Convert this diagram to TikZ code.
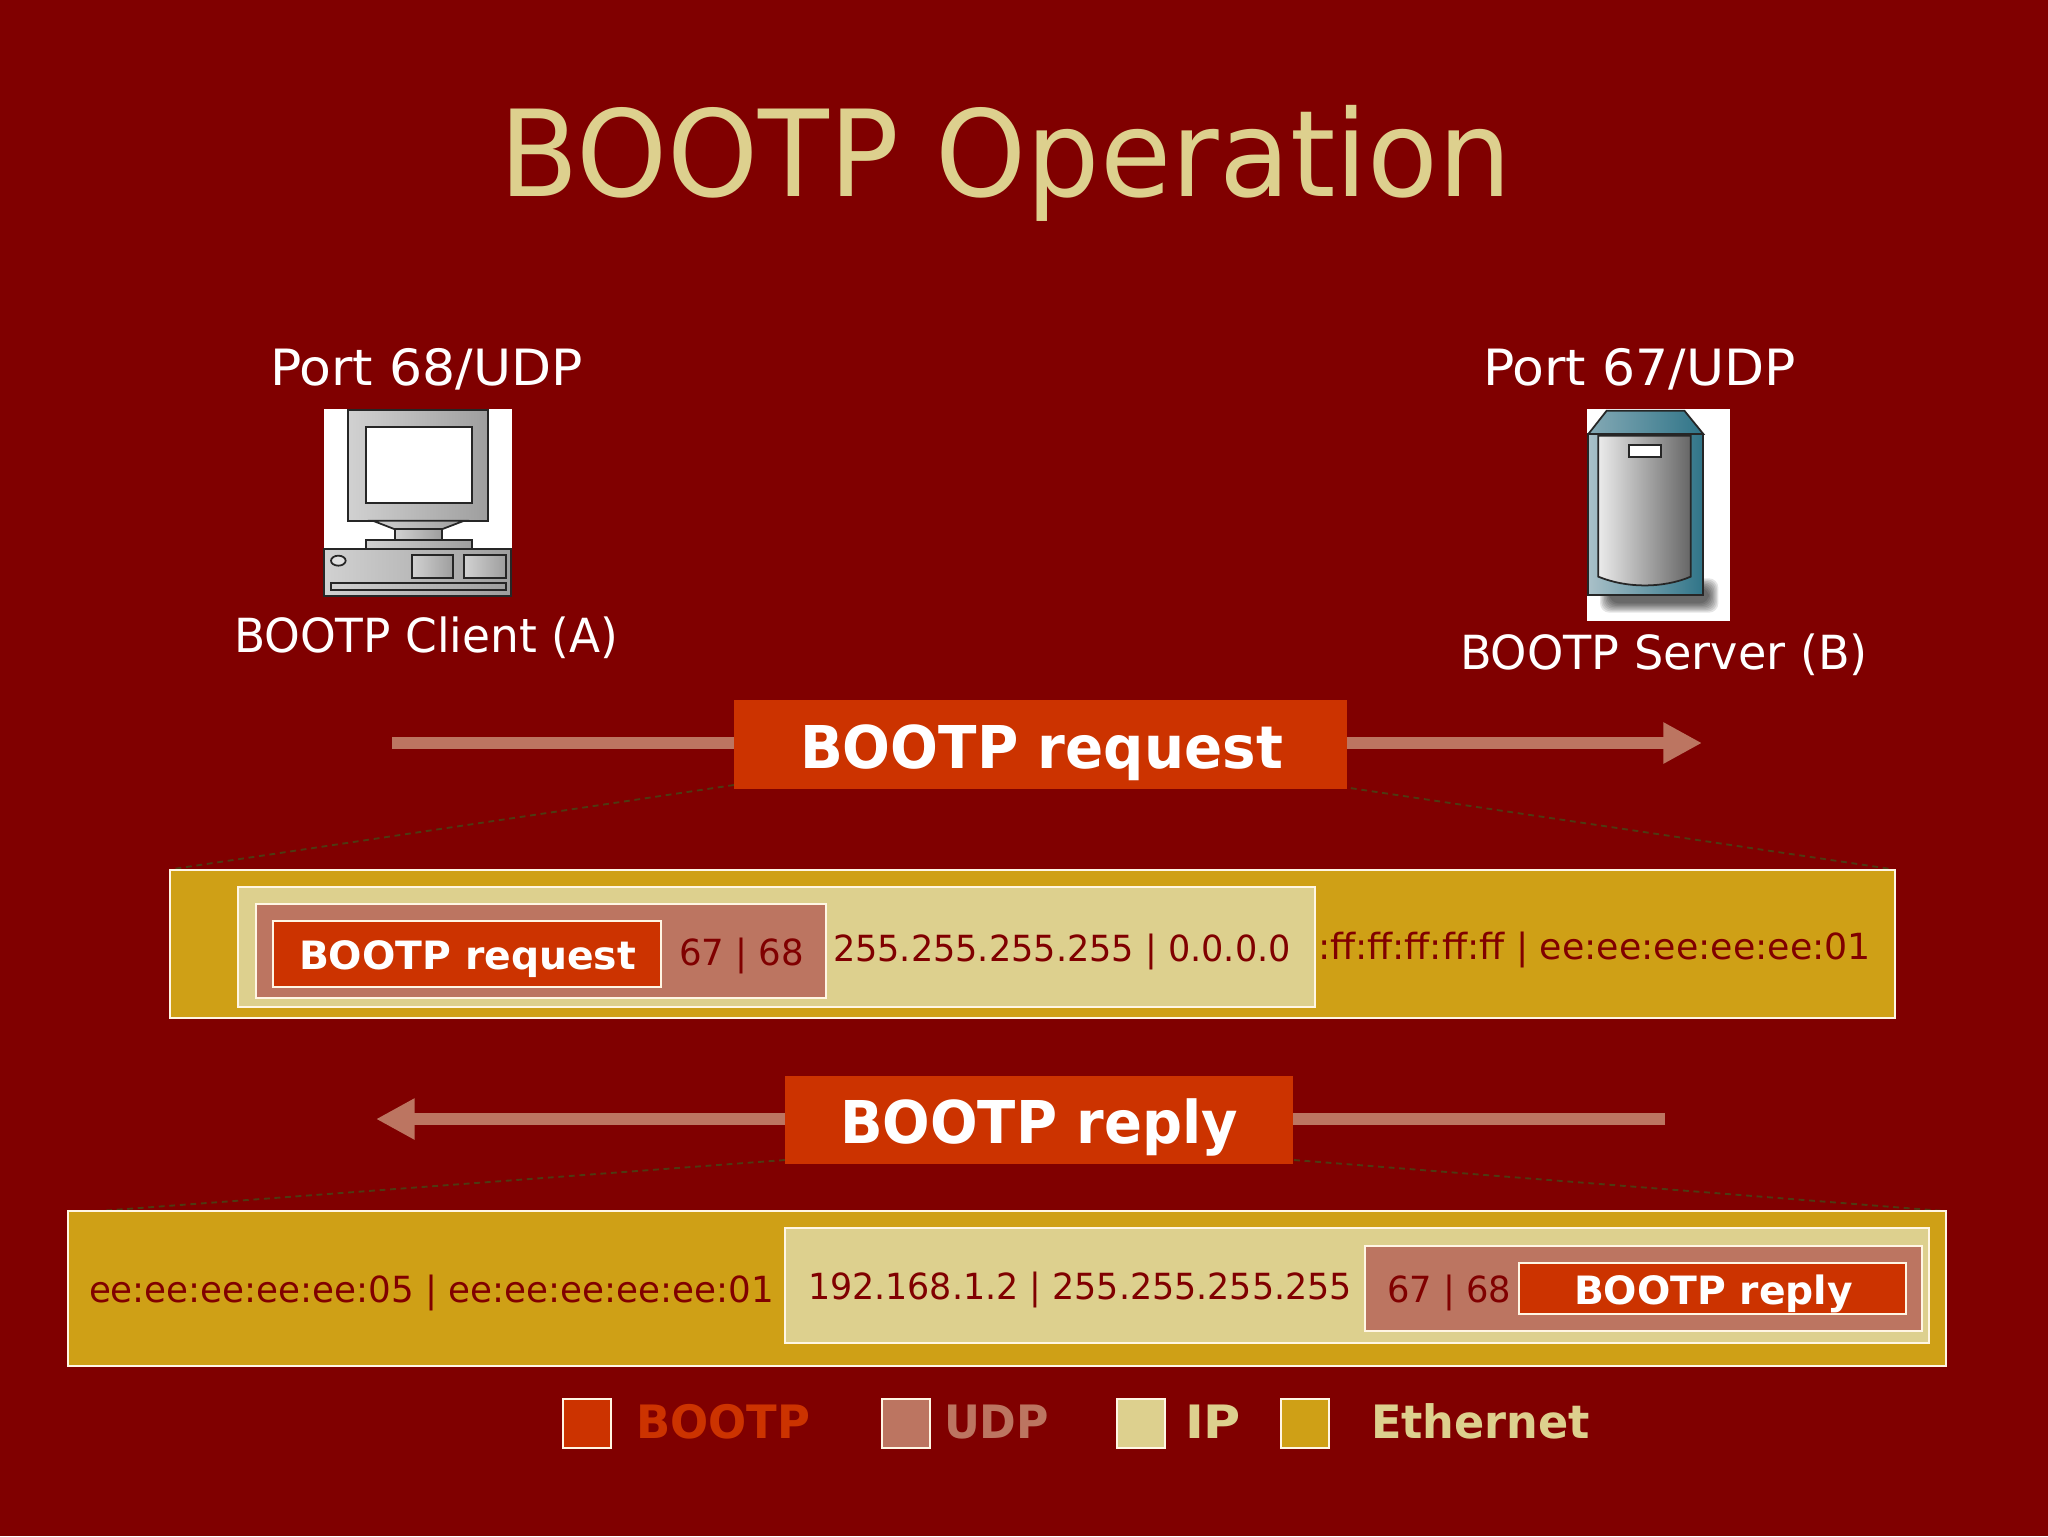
\documentclass[tikz,border=0pt]{standalone}
\usepackage{graphicx}
\usepackage{fontspec}
\setmainfont{DejaVu Sans}
\usetikzlibrary{arrows.meta}
\definecolor{bgred}{HTML}{800000}
\definecolor{protoboot}{HTML}{CC3300}
\definecolor{protoudp}{HTML}{BC7561}
\definecolor{protoip}{HTML}{DDD08E}
\definecolor{protoeth}{HTML}{CFA016}
\definecolor{edgew}{HTML}{FFF6E4}
\definecolor{dashc}{HTML}{4E3A12}
\definecolor{teal1}{HTML}{2F7488}
\definecolor{teal2}{HTML}{A9C0C8}
\newlength\pxu \setlength\pxu{0.03cm}
% width in px, font size in px, text
\newcommand\fitt[3]{\resizebox{#1\pxu}{\height}{\fontsize{#2\pxu}{#2\pxu}\selectfont #3}}
\tikzset{
  lbl/.style={anchor=base west,inner sep=0pt,outer sep=0pt},
  pbox/.style={draw=edgew,line width=1.7pt,inner sep=0pt,outer sep=0pt,anchor=center},
  banner/.style={fill=protoboot,inner sep=0pt,outer sep=0pt,anchor=center},
  fatarrow/.style={draw=protoudp,line width=11pt,-{Triangle[length=33pt,width=33pt]}},
  dashlink/.style={draw=dashc,line width=1.6pt,dash pattern=on 5pt off 4pt},
  icon/.style={draw=black!85,line width=1.5pt},
  metal/.style={icon,left color=black!18,right color=black!38},
}
\newcommand\bx[6]{\node[#2,minimum width={(#5-#3)*\pxu},minimum height={(#6-#4)*\pxu}] (#1) at ({(#3+#5)/2},{(#4+#6)/2}) {};}
\begin{document}
\begin{tikzpicture}[x=0.03cm,y=-0.03cm]
\useasboundingbox (0,0) rectangle (2048,1536);
\fill[bgred] (0,0) rectangle (2048,1536);

\node[lbl,text=protoip] (title) at (499,196) {\fitt{1013}{120}{BOOTP Operation}};
\node[lbl,text=white] (port68) at (270,385) {\fitt{313}{50}{Port 68/UDP}};
\node[lbl,text=white] (port67) at (1483,385) {\fitt{313}{50}{Port 67/UDP}};
\node[lbl,text=white] (client) at (234,652) {\fitt{384}{47}{BOOTP Client (A)}};
\node[lbl,text=white] (server) at (1460,669) {\fitt{408}{47}{BOOTP Server (B)}};

% client computer
\begin{scope}[shift={(220,320)},scale=1/3]
\fill[white] (313,267) rectangle (875,828);
\draw[metal] (385,270) rectangle (805,602);
\draw[icon,fill=white] (437,322) rectangle (755,550);
\draw[metal] (458,602) -- (733,602) -- (665,628) -- (525,628) -- cycle;
\draw[metal] (525,628) rectangle (665,660);
\draw[metal] (437,660) rectangle (755,688);
\draw[metal] (313,688) rectangle (873,828);
\draw[icon,fill=black!12] (355,722) ellipse [x radius=22,y radius=15];
\draw[metal] (577,704) rectangle (698,775);
\draw[metal] (733,704) rectangle (857,775);
\draw[metal] (333,790) rectangle (857,810);
\end{scope}

% server
\begin{scope}[shift={(1440,320)},scale=1/3]
\fill[white] (441,268) rectangle (870,903);
\foreach \d in {0,4,...,28}
  \fill[black,opacity=0.10,rounded corners=8pt] (480+\d,775+\d) rectangle (835-\d,878-\d);
\draw[icon,left color=teal2,right color=teal1] (445,342) rectangle (790,825);
\draw[icon,left color=teal2!70!teal1,right color=teal1] (445,342) -- (500,272) -- (733,272) -- (790,342) -- cycle;
\draw[icon,left color=black!8,right color=black!60] (475,347) -- (752,347) -- (752,770) .. controls (670,805) and (560,805) .. (475,770) -- cycle;
\draw[icon,fill=white] (566,375) rectangle (662,410);
\end{scope}

% dashed call-outs and arrows (under the banners and boxes)
\coordinate (rqL) at (734,785);
\coordinate (rqR) at (1330,785);
\coordinate (rpL) at (785,1160);
\coordinate (rpR) at (1294,1160);
\coordinate (e1L) at (173,869);
\coordinate (e1R) at (1891,869);
\coordinate (e2L) at (86,1212);
\coordinate (e2R) at (1944,1211);
\draw[dashlink] (rqL) -- (e1L);
\draw[dashlink] (rqR) -- (e1R);
\draw[dashlink] (rpL) -- (e2L);
\draw[dashlink] (rpR) -- (e2R);

\coordinate (rqS) at (392,743);
\coordinate (rqE) at (1702,743);
\coordinate (rpS) at (1665,1119);
\coordinate (rpE) at (376,1119);
\draw[fatarrow] (rqS) -- (rqE);
\draw[fatarrow] (rpS) -- (rpE);

\bx{reqb}{banner}{734}{700}{1347}{789}
\node[lbl,text=white] (reqt) at (800,768) {\fitt{483}{59}{\bfseries BOOTP request}};
\bx{repb}{banner}{785}{1076}{1293}{1164}
\node[lbl,text=white] (rept) at (840,1143) {\fitt{398}{59}{\bfseries BOOTP reply}};

% request frame
\bx{eth1}{pbox,fill=protoeth}{170}{870}{1895}{1018}
\bx{ip1}{pbox,fill=protoip}{238}{887}{1315}{1007}
\bx{udp1}{pbox,fill=protoudp}{256}{904}{826}{998}
\bx{bt1}{pbox,fill=protoboot}{273}{921}{661}{987}
\node[lbl,text=white] (bt1t) at (299,969) {\fitt{337}{39}{\bfseries BOOTP request}};
\node[lbl,text=bgred] (udp1t) at (679,965) {\fitt{125}{36}{67 | 68}};
\node[lbl,text=bgred] (ip1t) at (833,961) {\fitt{458}{36}{255.255.255.255 | 0.0.0.0}};
\node[lbl,text=bgred] (eth1t) at (1318,959) {\fitt{553}{36}{:ff:ff:ff:ff:ff | ee:ee:ee:ee:ee:01}};

% reply frame
\bx{eth2}{pbox,fill=protoeth}{68}{1211}{1946}{1366}
\bx{ip2}{pbox,fill=protoip}{785}{1228}{1929}{1343}
\bx{udp2}{pbox,fill=protoudp}{1365}{1246}{1922}{1331}
\bx{bt2}{pbox,fill=protoboot}{1519}{1263}{1906}{1314}
\node[lbl,text=white] (bt2t) at (1574,1304) {\fitt{279}{39}{\bfseries BOOTP reply}};
\node[lbl,text=bgred] (udp2t) at (1387,1302) {\fitt{124}{36}{67 | 68}};
\node[lbl,text=bgred] (ip2t) at (808,1299) {\fitt{544}{36}{192.168.1.2 | 255.255.255.255}};
\node[lbl,text=bgred] (eth2t) at (89,1302) {\fitt{685}{36}{ee:ee:ee:ee:ee:05 | ee:ee:ee:ee:ee:01}};

% legend
\bx{lg1}{pbox,fill=protoboot}{563}{1399}{611}{1448}
\bx{lg2}{pbox,fill=protoudp}{882}{1399}{930}{1448}
\bx{lg3}{pbox,fill=protoip}{1117}{1399}{1165}{1448}
\bx{lg4}{pbox,fill=protoeth}{1281}{1399}{1329}{1448}
\node[lbl,text=protoboot] (lg1t) at (636,1438) {\fitt{174}{46}{\bfseries BOOTP}};
\node[lbl,text=protoudp] (lg2t) at (944,1438) {\fitt{105}{46}{\bfseries UDP}};
\node[lbl,text=protoip] (lg3t) at (1185,1438) {\fitt{56}{46}{\bfseries IP}};
\node[lbl,text=protoip] (lg4t) at (1371,1438) {\fitt{219}{46}{\bfseries Ethernet}};
\end{tikzpicture}
\end{document}
